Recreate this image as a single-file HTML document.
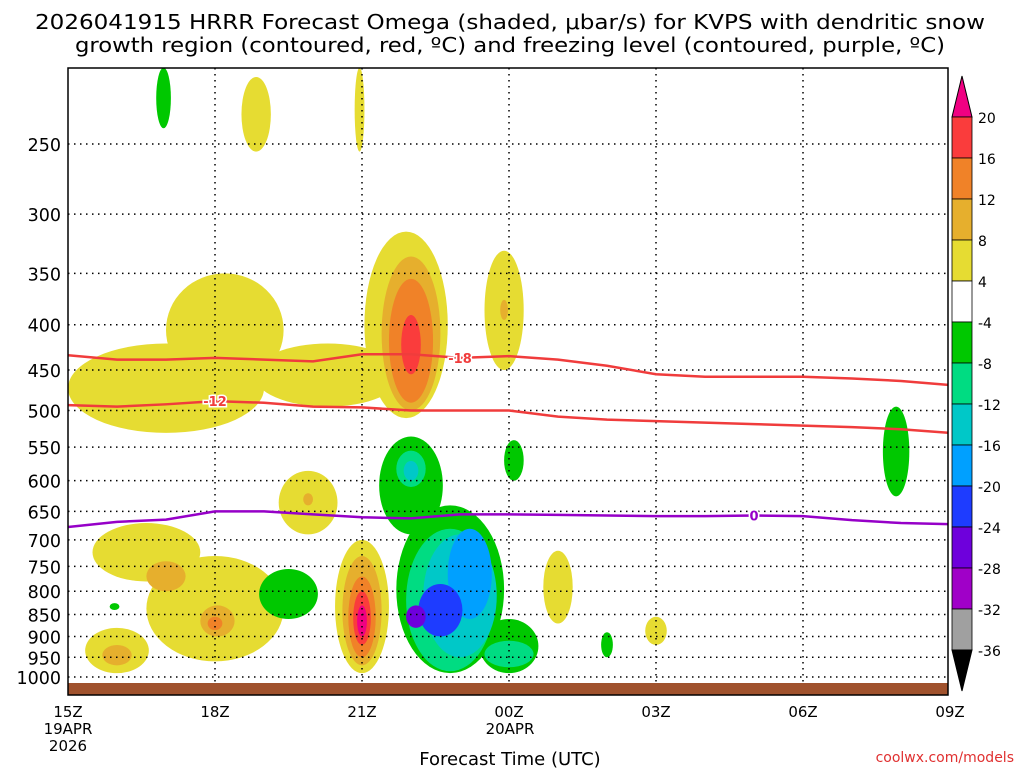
<!DOCTYPE html>
<html><head><meta charset="utf-8"><style>
body{margin:0;background:#fff;width:1024px;height:768px;overflow:hidden;font-family:"DejaVu Sans",sans-serif}
svg text{font-family:"DejaVu Sans",sans-serif}
</style></head><body>
<svg id="c" width="1024" height="768">
<text x="510" y="29" text-anchor="middle" font-size="20.5" textLength="950" lengthAdjust="spacingAndGlyphs" fill="#000">2026041915 HRRR Forecast Omega (shaded, μbar/s) for KVPS with dendritic snow</text>
<text x="510" y="52" text-anchor="middle" font-size="20.5" textLength="870" lengthAdjust="spacingAndGlyphs" fill="#000">growth region (contoured, red, ºC) and freezing level (contoured, purple, ºC)</text>
<clipPath id="clip"><rect x="68" y="68" width="880" height="627"/></clipPath>
<g id="fills" clip-path="url(#clip)"></g>
<g id="grid"></g>
<g id="lines" clip-path="url(#clip)"></g>
<rect x="68" y="683" width="880" height="12" fill="#a0522d"/>
<rect x="68" y="68" width="880" height="627" fill="none" stroke="#000" stroke-width="1.5"/>
<g id="axes"></g>
<g id="cbar"></g>
<text x="510" y="765" text-anchor="middle" font-size="18" fill="#000">Forecast Time (UTC)</text>
<text x="1014" y="762" text-anchor="end" font-size="14" fill="#e03030">coolwx.com/models</text>
</svg>
<script>
const pLevels=[250,300,350,400,450,500,550,600,650,700,750,800,850,900,950,1000];
const xTickHours=[0,3,6,9,12,15,18];
const xTickLabels=["15Z","18Z","21Z","00Z","03Z","06Z","09Z"];
const cbLabels=[20,16,12,8,4,-4,-8,-12,-16,-20,-24,-28,-32,-36];
const hours=[0,1,2,3,4,5,6,7,8,9,10,11,12,13,14,15,16,17,18];
const line18=[433,438,438,436,438,440,432,432,436,434,438,445,455,458,458,458,460,463,468];
const line12=[493,495,492,488,490,495,496,500,500,500,508,512,514,516,518,520,522,525,530];
const line0=[677,668,664,650,650,655,660,662,655,655,656,657,658,658,657,658,665,670,672];
// blobs: [hour center, half width (h), p top, p bottom, level]
const blobs=[
[2.0,2.0,420,530,4],[3.2,1.2,350,470,4],[5.3,1.5,420,495,4],
[3.84,0.3,210,255,4],[5.95,0.1,205,255,4],[1.95,0.15,205,240,-4],
[6.9,0.85,314,510,4],[7.0,0.6,335,500,8],[7.0,0.45,355,490,12],[7.0,0.2,390,455,16],
[8.9,0.4,330,450,4],[8.9,0.08,375,395,8],
[1.6,1.1,670,780,4],[3.0,1.4,730,960,4],[2.0,0.4,740,800,8],[3.05,0.35,830,900,8],[3.0,0.15,855,885,12],
[1.0,0.65,880,990,4],[1.0,0.3,920,970,8],
[4.9,0.6,585,690,4],[4.9,0.1,620,640,8],
[6.0,0.55,700,990,4],[6.0,0.4,730,970,8],[6.0,0.28,770,950,12],[6.0,0.18,800,920,16],[6.0,0.1,830,900,20],
[10.0,0.3,720,870,4],[12.0,0.22,855,920,4],
[4.5,0.6,755,860,-4],[0.95,0.1,825,840,-4],[11.0,0.12,890,950,-4],[16.9,0.27,495,625,-4],[9.1,0.2,540,600,-4],
[7.0,0.65,535,690,-4],[7.8,1.1,640,990,-4],[9.0,0.6,860,990,-4],[7.0,0.3,555,610,-8],[7.0,0.15,570,600,-12],
[7.8,0.9,680,985,-8],[9.0,0.5,910,975,-8],[8.0,0.75,690,950,-12],[8.2,0.45,680,860,-16],[7.6,0.45,785,900,-20],[7.1,0.2,830,880,-24]
];
const colors={4:"#e6dc32",8:"#e6af2d",12:"#f08228",16:"#fa3c3c",20:"#f00082",
"-4":"#00c800","-8":"#00dc82","-12":"#00c8c8","-16":"#00a0ff","-20":"#1e3cff","-24":"#6e00dc","-28":"#a000c8","-32":"#a0a0a0"};
const NS="http://www.w3.org/2000/svg";
const X=h=>68+h*49;
const Y=p=>144+384.5*Math.log(p/250);
function mk(tag,attrs,parent){const e=document.createElementNS(NS,tag);for(const k in attrs)e.setAttribute(k,attrs[k]);parent.appendChild(e);return e;}
const fills=document.getElementById('fills');
blobs.forEach((b,i)=>{
 const y1=Y(b[2]),y2=Y(b[3]);
 const e=mk('ellipse',{cx:X(b[0]),cy:(y1+y2)/2,rx:b[1]*49,ry:(y2-y1)/2,fill:colors[b[4]]},fills);
 
 
});
const grid=document.getElementById('grid'),axes=document.getElementById('axes');
pLevels.forEach(p=>{
 const l=mk('line',{x1:68,x2:948,y1:Y(p),y2:Y(p),stroke:"#000","stroke-dasharray":"1.5 4.5","stroke-width":1.5},grid);
 
 
 const t=mk('text',{x:61,y:Y(p)+7,"text-anchor":"end","font-size":17.5,fill:"#000"},axes);
 t.textContent=p;
 
 
});
xTickHours.forEach((h,i)=>{
 if(i>0&&i<6){const l=mk('line',{x1:X(h),x2:X(h),y1:68,y2:695,stroke:"#000","stroke-dasharray":"1.5 4.5","stroke-width":1.5},grid);
 
 }
 const t=mk('text',{x:X(h),y:717,"text-anchor":"middle","font-size":15,fill:"#000"},axes);
 t.textContent=xTickLabels[i];
 
 
});
[["19APR",734,68],["2026",751,68],["20APR",734,510]].forEach((d,i)=>{
 const t=mk('text',{x:d[2],y:d[1],"text-anchor":"middle","font-size":15,fill:"#000"},axes);
 t.textContent=d[0];
 
 
});
const lines=document.getElementById('lines');
function drawLine(arr,col,name,lab,lh){
 const d=arr.map((p,i)=>(i?'L':'M')+X(hours[i])+' '+Y(p)).join(' ');
 const e=mk('path',{d:d,fill:"none",stroke:col,"stroke-width":2.5},lines);
 
 
 const yy=Y(arr[lh]);
 const t=mk('text',{x:X(lh),y:yy+5,"text-anchor":"middle","font-size":13,"font-weight":"bold",fill:col,stroke:"#fff","stroke-width":3,"paint-order":"stroke"},lines);
 t.textContent=lab;
 
 
}
drawLine(line18,"#f03c3c","minus18-line","-18",8);
drawLine(line12,"#f03c3c","minus12-line","-12",3);
drawLine(line0,"#9600c8","freezing-line","0",14);
const cb=document.getElementById('cbar');
const cbY=v=>{const i=cbLabels.indexOf(v);return 117+i*41.0;};
const segCols=["#fa3c3c","#f08228","#e6af2d","#e6dc32","#ffffff","#00c800","#00dc82","#00c8c8","#00a0ff","#1e3cff","#6e00dc","#a000c8","#a0a0a0"];
let tri=mk('path',{d:"M952 117 L962 76 L972 117 Z",fill:"#f00082",stroke:"#000"},cb);

segCols.forEach((c,i)=>{
 const r=mk('rect',{x:952,y:cbY(cbLabels[i]),width:20,height:41,fill:c,stroke:"#000","stroke-width":0.8},cb);
 
 
});
tri=mk('path',{d:"M952 650 L962 691 L972 650 Z",fill:"#000",stroke:"#000"},cb);

cbLabels.forEach(v=>{
 const t=mk('text',{x:978,y:cbY(v)+6,"font-size":14,fill:"#000"},cb);
 t.textContent=v;
 
 
});
</script>
</body></html>
